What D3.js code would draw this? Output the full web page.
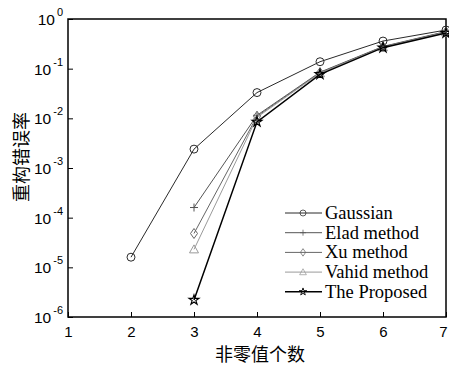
<!DOCTYPE html>
<html><head><meta charset="utf-8">
<script src="https://cdn.jsdelivr.net/npm/d3@7"></script>
<style>body{margin:0;background:#fff;} svg{display:block;}</style>
</head><body>
<script>
const xValsG = [2,3,4,5,6,7];
const gaussian = [1.6e-5, 2.4e-3, 0.033, 0.138, 0.36, 0.6];
const xValsO = [3,4,5,6,7];
const elad = [1.6e-4, 0.0115, 0.085, 0.28, 0.56];
const xu = [4.8e-5, 0.011, 0.083, 0.275, 0.55];
const vahid = [2.3e-5, 0.0105, 0.081, 0.27, 0.54];
const proposed = [2.2e-6, 0.0085, 0.077, 0.265, 0.52];
const seriesNames = ["Gaussian","Elad method","Xu method","Vahid method","The Proposed"];
const xTicks = [1,2,3,4,5,6,7];
const yExps = [0,-1,-2,-3,-4,-5,-6];
const xLabel = "非零值个数";
const yLabel = "重构错误率";

const W=449,H=365;
const L=68,R=446,T=19,B=317;
const svg=d3.select("body").append("svg").attr("width",W).attr("height",H);
const x=d3.scaleLinear().domain([1,7]).range([L,R]);
const y=d3.scaleLog().domain([1e-6,1]).range([B,T]);

const series=[
 {name:seriesNames[0],xs:xValsG,vals:gaussian,color:"#2a2a2a",w:1,m:"circle"},
 {name:seriesNames[1],xs:xValsO,vals:elad,color:"#555",w:1,m:"plus"},
 {name:seriesNames[2],xs:xValsO,vals:xu,color:"#666",w:1,m:"diamond"},
 {name:seriesNames[3],xs:xValsO,vals:vahid,color:"#9a9a9a",w:1,m:"triangle"},
 {name:seriesNames[4],xs:xValsO,vals:proposed,color:"#000",w:1.5,m:"star"}
];

svg.append("rect").attr("x",L).attr("y",T).attr("width",R-L).attr("height",B-T)
 .attr("fill","none").attr("stroke","#000").attr("stroke-width",1.5);

const xa=svg.append("g").attr("transform",`translate(0,${B})`)
 .call(d3.axisBottom(x).tickValues(xTicks).tickSizeInner(-5).tickSizeOuter(0).tickPadding(9).tickFormat(d3.format("d")));
xa.select(".domain").remove();
xa.selectAll("text").attr("font-family","Liberation Sans, Arial").attr("font-size",15).attr("fill","#000")
  .attr("dx",d=>d===7?-3:0);
xa.selectAll("line").attr("stroke","#000");

const ya=svg.append("g").attr("transform",`translate(${L},0)`)
 .call(d3.axisLeft(y).tickValues(yExps.map(e=>Math.pow(10,e))).tickSizeInner(-5).tickSizeOuter(0).tickFormat(""));
ya.select(".domain").remove();
ya.selectAll("line").attr("stroke","#000");
ya.selectAll(".tick").each(function(d){
  const e=Math.round(Math.log10(d));
  const t=d3.select(this).append("text").attr("x",-5).attr("y",5.5)
   .attr("text-anchor","end").attr("font-family","Liberation Sans, Arial").attr("font-size",15.5).attr("fill","#000");
  t.append("tspan").text("10");
  t.append("tspan").attr("dy",-9).attr("dx",2).attr("font-size",11).text(String(e));
});

const line=d3.line().x(d=>x(d[0])).y(d=>y(d[1]));
function marker(g,type,cx,cy,color,sc){
  sc=sc||1;
  const s=g.append("path").attr("fill","none").attr("stroke",color).attr("stroke-width",1)
    .attr("transform",`translate(${cx},${cy}) scale(${sc})`);
  if(type==="circle") s.attr("d",d3.symbol(d3.symbolCircle,50)());
  else if(type==="plus") s.attr("d","M-4,0H4M0,-4V4");
  else if(type==="diamond") s.attr("d","M0,-5L3.5,0L0,5L-3.5,0Z");
  else if(type==="triangle") s.attr("d","M0,-4.5L4.5,3.5L-4.5,3.5Z");
  else if(type==="star") s.attr("d",d3.symbol(d3.symbolStar,30)()).attr("stroke-width",1.2);
}
series.forEach(s=>{
  const pts=s.xs.map((xx,i)=>[xx,s.vals[i]]);
  svg.append("path").datum(pts).attr("d",line).attr("fill","none").attr("stroke",s.color).attr("stroke-width",s.w);
  const g=svg.append("g");
  pts.forEach(p=>marker(g,s.m,x(p[0]),y(p[1]),s.color));
});

const lg=svg.append("g");
series.forEach((s,i)=>{
  const yy=213+i*19.7;
  lg.append("line").attr("x1",285).attr("x2",322).attr("y1",yy).attr("y2",yy).attr("stroke",s.color).attr("stroke-width",s.w);
  marker(lg,s.m,303,yy,s.color,0.75);
  lg.append("text").attr("x",325).attr("y",yy+6).attr("font-family","Liberation Serif, Times New Roman")
    .attr("font-size",18.5).attr("fill","#000").text(s.name);
});

svg.append("text").attr("x",260).attr("y",361).attr("text-anchor","middle")
 .attr("font-family","Noto Sans CJK SC").attr("font-size",18).attr("fill","#000").text(xLabel);
svg.append("text").attr("transform","translate(28,157) rotate(-90)").attr("text-anchor","middle")
 .attr("font-family","Noto Sans CJK SC").attr("font-size",18).attr("fill","#000").text(yLabel);
</script>
</body></html>
